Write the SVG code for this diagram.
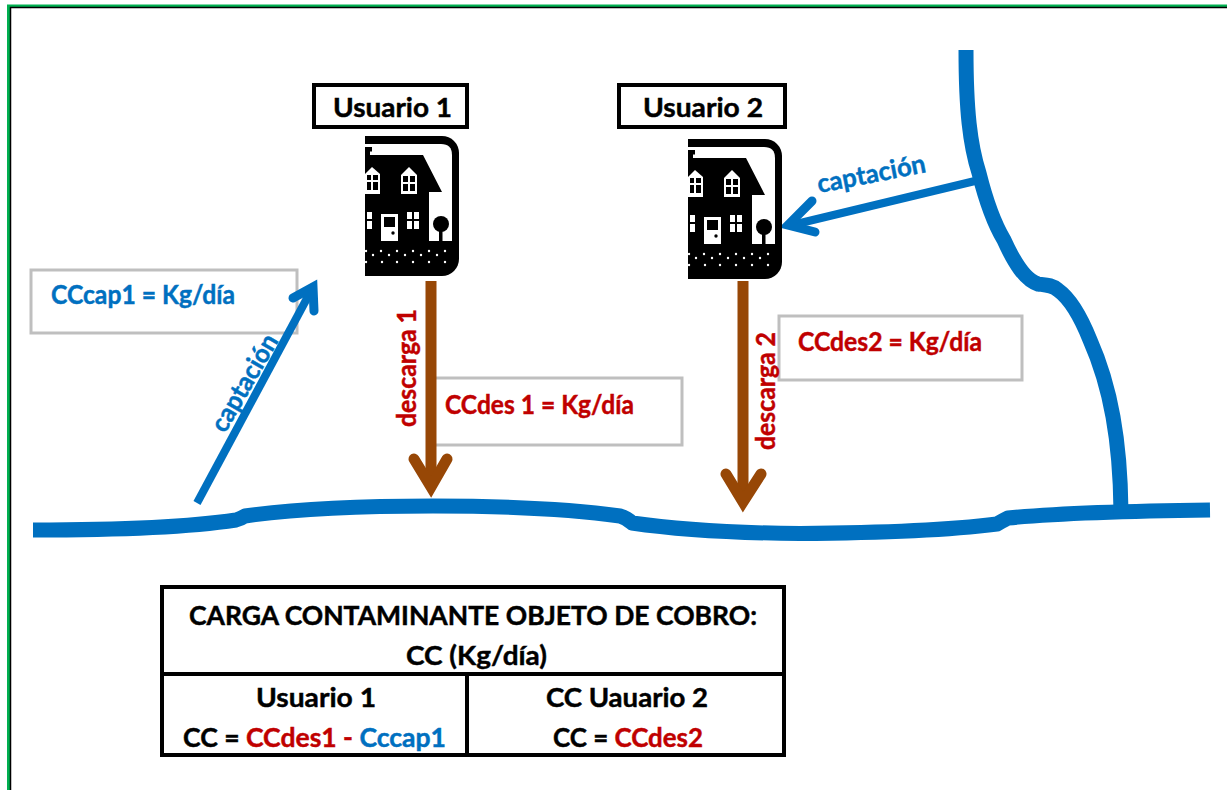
<svg xmlns="http://www.w3.org/2000/svg" width="1227" height="790" viewBox="0 0 1227 790">
<style>
text{font-family:"Lato","Carlito","Open Sans",sans-serif;font-weight:700;stroke-width:.45;paint-order:stroke}
.k{fill:#000;stroke:#000}.b{fill:#0070C0;stroke:#0070C0}.r{fill:#C00000;stroke:#C00000}
.lab{fill:#fff;stroke:#BFBFBF;stroke-width:3}
.name{fill:#fff;stroke:#000;stroke-width:4}
.river{fill:none;stroke:#0070C0;stroke-linecap:butt;stroke-linejoin:round}
.ab{fill:none;stroke:#0070C0;stroke-width:8}
.abh{fill:none;stroke:#0070C0;stroke-width:9;stroke-linecap:round;stroke-linejoin:miter}
.br{fill:none;stroke:#974706;stroke-width:11}
.brh{fill:none;stroke:#974706;stroke-width:11;stroke-linecap:round;stroke-linejoin:miter}
.t{fill:none;stroke:#000;stroke-width:4}
</style>
<defs>
<clipPath id="hc"><rect x="365" y="130" width="100" height="150"/></clipPath>
<g id="house" clip-path="url(#hc)">
<rect x="340" y="136" width="119" height="140" rx="17" fill="#000"/>
<path d="M340 144H441Q452 144 452 155V241H340Z" fill="#fff"/>
<path d="M340 155H423L442 192H429V241H340Z" fill="#000"/>
<rect x="340" y="147" width="32" height="4.5" fill="#000"/><rect x="340" y="151" width="30" height="5" fill="#000"/>
<path d="M365 174L372 167L380 174V194H365Z" fill="#fff"/>
<path d="M367 175H371V180H367ZM373 175H378V180H373ZM367 182H371V190H367ZM373 182H378V190H373Z" fill="#000"/>
<path d="M401 175L409 167L417 175V194H401Z" fill="#fff"/>
<path d="M403 176H408V182H403ZM410 176H415V182H410ZM403 184H408V191H403ZM410 184H415V191H410Z" fill="#000"/>
<path d="M367 212H372V219H367ZM367 221H372V229H367Z" fill="#fff"/>
<path d="M407 212H412V219H407ZM414 212H419V219H414ZM407 221H412V229H407ZM414 221H419V229H414Z" fill="#fff"/>
<rect x="381" y="214" width="17" height="27" fill="#fff"/>
<rect x="384" y="217" width="11" height="10" fill="#000"/>
<circle cx="393" cy="233" r="1.7" fill="#000"/>
<circle cx="441" cy="224" r="8" fill="#000"/>
<rect x="439" y="230" width="3.5" height="12" fill="#000"/>
<g fill="#fff">
<circle cx="366" cy="251" r="1.2"/><circle cx="381" cy="251" r="1.2"/><circle cx="397" cy="251" r="1.2"/><circle cx="413" cy="251" r="1.2"/><circle cx="429" cy="251" r="1.2"/><circle cx="445" cy="251" r="1.2"/>
<circle cx="373" cy="255" r="1.2"/><circle cx="389" cy="255" r="1.2"/><circle cx="405" cy="255" r="1.2"/><circle cx="421" cy="255" r="1.2"/><circle cx="437" cy="255" r="1.2"/>
<circle cx="366" cy="262" r="1.2"/><circle cx="382" cy="262" r="1.2"/><circle cx="397" cy="262" r="1.2"/><circle cx="413" cy="262" r="1.2"/><circle cx="429" cy="262" r="1.2"/><circle cx="445" cy="262" r="1.2"/>
</g>
</g>
</defs>
<rect width="1227" height="790" fill="#fff"/>
<g id="frame">
<path d="M8.5 790V6H1227" fill="none" stroke="#00B050" stroke-width="3"/>
<path d="M10.5 790V7.5H1227" fill="none" stroke="#000" stroke-width="1.5"/>
</g>
<g id="rivers">
<path class="river" stroke-width="15" d="M33 530C110 530 190 527 236 520Q242 518 245 516C300 508 370 506 433 506C500 506 570 509 620 516Q627 518 632 523C680 530 740 533 800 533.5C870 533 950 530 997 524Q1002 521 1008 518C1060 513 1130 511 1210 510"/>
<path class="river" stroke-width="15" d="M966 50C966 110 970 145 979 173C987 205 995 225 1004 240C1014 262 1025 280 1038 284C1046 285 1052 285 1058 290C1072 300 1082 320 1090 340C1110 385 1121 440 1121 519"/>
</g>
<g id="label-cap1"><rect class="lab" x="31" y="270" width="266" height="63"/><text x="51" y="304" font-size="26" textLength="184" lengthAdjust="spacingAndGlyphs" class="b">CCcap1 = Kg/día</text></g>
<g id="label-des1"><rect class="lab" x="434" y="378" width="248" height="67"/><text x="445" y="414" font-size="26" textLength="189" lengthAdjust="spacingAndGlyphs" class="r">CCdes 1 = Kg/día</text></g>
<g id="label-des2"><rect class="lab" x="779" y="316" width="243" height="64"/><text x="798" y="351" font-size="26" textLength="184" lengthAdjust="spacingAndGlyphs" class="r">CCdes2 = Kg/día</text></g>
<g id="connectors">
<path class="ab" d="M197 503L312 289"/>
<path class="abh" d="M293 298L313 287L314 311"/>
<path class="ab" d="M975 181L792 225"/>
<path class="abh" d="M812 201L788 225L815 232"/>
<path class="br" d="M431 281V480"/>
<path class="brh" d="M414 459L431 487L447 459"/>
<path class="br" d="M743 281V495"/>
<path class="brh" d="M726 474L743 502L761 474"/>
</g>
<text transform="translate(225 434) rotate(-60)" font-size="26" textLength="108" lengthAdjust="spacingAndGlyphs" class="b">captación</text>
<text transform="translate(819 193) rotate(-11)" font-size="26" textLength="110" lengthAdjust="spacingAndGlyphs" class="b">captación</text>
<text transform="translate(416 427) rotate(-90)" font-size="26" textLength="118" lengthAdjust="spacingAndGlyphs" class="r">descarga 1</text>
<text transform="translate(775 450) rotate(-90)" font-size="26" textLength="118" lengthAdjust="spacingAndGlyphs" class="r">descarga 2</text>
<g id="usuario-1"><rect class="name" x="314" y="85" width="153" height="42"/><text x="333" y="117" font-size="26" textLength="119" lengthAdjust="spacingAndGlyphs" class="k">Usuario 1</text><use href="#house"/></g>
<g id="usuario-2"><rect class="name" x="619" y="85" width="166" height="42"/><text x="643" y="117" font-size="26" textLength="120" lengthAdjust="spacingAndGlyphs" class="k">Usuario 2</text><use href="#house" transform="translate(323 3)"/></g>
<g id="table">
<rect class="t" x="162" y="587" width="622" height="168"/>
<path class="t" d="M162 674H784M467 674V755"/>
<text x="189" y="625" font-size="27" textLength="568" lengthAdjust="spacingAndGlyphs" class="k">CARGA CONTAMINANTE OBJETO DE COBRO:</text>
<text x="406" y="665" font-size="27" textLength="141" lengthAdjust="spacingAndGlyphs" class="k">CC (Kg/día)</text>
<text x="256" y="707" font-size="27" textLength="120" lengthAdjust="spacingAndGlyphs" class="k">Usuario 1</text>
<text x="546" y="707" font-size="27" textLength="162" lengthAdjust="spacingAndGlyphs" class="k">CC Uauario 2</text>
<text x="183" y="747" font-size="27" textLength="263" lengthAdjust="spacingAndGlyphs"><tspan class="k">CC = </tspan><tspan class="r">CCdes1 - </tspan><tspan class="b">Cccap1</tspan></text>
<text x="553" y="747" font-size="27" textLength="150" lengthAdjust="spacingAndGlyphs"><tspan class="k">CC = </tspan><tspan class="r">CCdes2</tspan></text>
</g>
</svg>
